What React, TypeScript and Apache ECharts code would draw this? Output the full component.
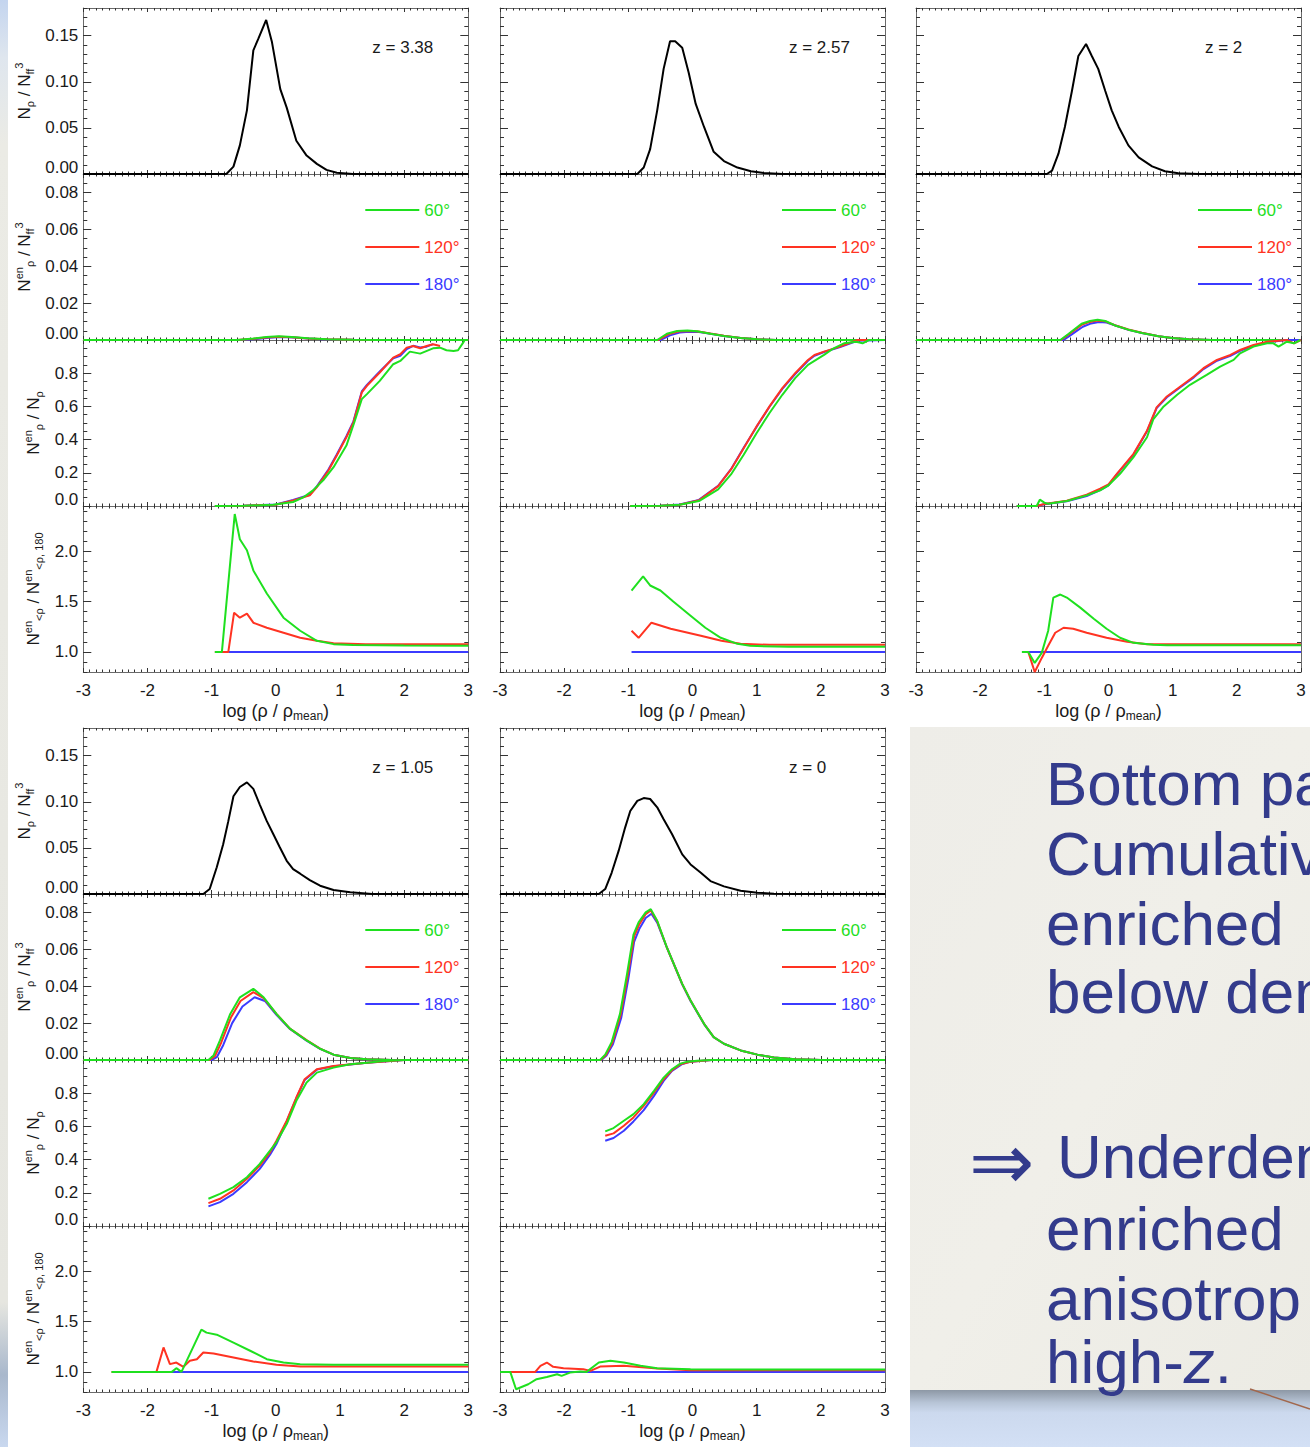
import React, { useEffect, useRef } from "react";
import * as echarts from "echarts";

const FONT = '"Liberation Sans", Arial, Helvetica, sans-serif';
const INK = "#1a1a1a";
const C60 = "#1fe01f";
const C120 = "#ff3322";
const C180 = "#3b3bff";
const NOTE_BLUE = "#333b8c";

// ---------- x ticks ----------
const X_MIN = -3;
const X_MAX = 3;

// ---------- y tick labels per row ----------
const Y_TICKS_TOTAL = [0, 0.05, 0.1, 0.15];
const Y_TICKS_EN = [0, 0.02, 0.04, 0.06, 0.08];
const Y_TICKS_FRAC = [0, 0.2, 0.4, 0.6, 0.8];
const Y_TICKS_RATIO = [1.0, 1.5, 2.0];

// ---------- z = 3.38 ----------
const z338Total = [[-3, 0], [-0.77, 0], [-0.66, 0.008], [-0.56, 0.031], [-0.45, 0.069], [-0.35, 0.134], [-0.27, 0.147], [-0.15, 0.167], [-0.06, 0.143], [0.07, 0.092], [0.17, 0.072], [0.32, 0.036], [0.48, 0.02], [0.64, 0.011], [0.79, 0.0045], [0.95, 0.0013], [1.2, 0], [3, 0]];
const z338En60 = [[-3, 0], [-0.6, 0], [-0.35, 0.0008], [-0.15, 0.0016], [0.05, 0.002], [0.25, 0.0016], [0.5, 0.0009], [0.8, 0.0004], [1.2, 0.0001], [1.6, 0], [3, 0]];
const z338En120 = [[-3, 0], [-0.6, 0], [-0.35, 0.0007], [-0.15, 0.0014], [0.05, 0.0018], [0.25, 0.0015], [0.5, 0.0008], [0.8, 0.0004], [1.2, 0.0001], [1.6, 0], [3, 0]];
const z338En180 = [[-3, 0], [-0.55, 0], [-0.3, 0.0006], [-0.1, 0.0012], [0.08, 0.0016], [0.28, 0.0013], [0.5, 0.0008], [0.8, 0.0003], [1.2, 0.0001], [1.6, 0], [3, 0]];
const z338Frac60 = [[-0.95, 0], [-0.5, 0.001], [-0.04, 0.008], [0.27, 0.024], [0.42, 0.05], [0.58, 0.094], [0.75, 0.16], [0.9, 0.234], [1.1, 0.364], [1.22, 0.5], [1.34, 0.644], [1.42, 0.674], [1.62, 0.754], [1.83, 0.854], [1.94, 0.874], [2.09, 0.93], [2.25, 0.918], [2.45, 0.95], [2.56, 0.954], [2.66, 0.938], [2.77, 0.934], [2.84, 0.938], [2.92, 0.984], [2.97, 1.02]];
const z338Frac120 = [[-0.95, 0], [-0.5, 0.002], [0, 0.008], [0.27, 0.034], [0.53, 0.064], [0.64, 0.114], [0.82, 0.214], [0.95, 0.304], [1.1, 0.414], [1.21, 0.504], [1.34, 0.684], [1.42, 0.724], [1.62, 0.804], [1.83, 0.894], [1.94, 0.914], [2.04, 0.954], [2.14, 0.964], [2.25, 0.95], [2.35, 0.964], [2.45, 0.974], [2.56, 0.964]];
const z338Frac180 = [[-0.95, 0], [-0.5, 0.002], [0, 0.009], [0.27, 0.036], [0.53, 0.068], [0.64, 0.118], [0.82, 0.22], [0.95, 0.31], [1.1, 0.42], [1.21, 0.51], [1.34, 0.69], [1.42, 0.73], [1.62, 0.81], [1.83, 0.89], [1.94, 0.905], [2.04, 0.945], [2.14, 0.965], [2.25, 0.955], [2.35, 0.96], [2.45, 0.975]];
const z338Ratio60 = [[-0.95, 1], [-0.84, 1], [-0.64, 2.37], [-0.56, 2.12], [-0.45, 2.01], [-0.35, 1.81], [-0.14, 1.58], [0.12, 1.34], [0.38, 1.21], [0.64, 1.11], [0.9, 1.077], [1.2, 1.068], [2, 1.063], [3, 1.062]];
const z338Ratio120 = [[-0.95, 1], [-0.74, 1], [-0.65, 1.39], [-0.56, 1.34], [-0.45, 1.38], [-0.35, 1.29], [-0.14, 1.24], [0.12, 1.19], [0.38, 1.14], [0.64, 1.11], [0.9, 1.087], [1.4, 1.077], [3, 1.077]];
const z338Ratio180 = [[-0.74, 1], [3, 1]];

// ---------- z = 2.57 ----------
const z257Total = [[-3, 0], [-0.86, 0], [-0.76, 0.007], [-0.66, 0.027], [-0.55, 0.069], [-0.45, 0.114], [-0.35, 0.144], [-0.27, 0.144], [-0.16, 0.137], [-0.06, 0.11], [0.05, 0.076], [0.18, 0.051], [0.33, 0.024], [0.49, 0.014], [0.7, 0.007], [0.91, 0.003], [1.11, 0.001], [1.4, 0], [3, 0]];
const z257En60 = [[-3, 0], [-0.55, 0], [-0.4, 0.0034], [-0.24, 0.0049], [-0.08, 0.0052], [0.07, 0.0047], [0.28, 0.0034], [0.49, 0.0022], [0.75, 0.0011], [1.01, 0.0004], [1.3, 0], [3, 0]];
const z257En120 = [[-3, 0], [-0.53, 0], [-0.38, 0.0031], [-0.22, 0.0046], [-0.06, 0.0049], [0.09, 0.0046], [0.28, 0.0035], [0.49, 0.0023], [0.75, 0.0011], [1.01, 0.0004], [1.3, 0], [3, 0]];
const z257En180 = [[-3, 0], [-0.5, 0], [-0.35, 0.0025], [-0.2, 0.004], [-0.05, 0.0045], [0.1, 0.0043], [0.28, 0.0034], [0.49, 0.0022], [0.75, 0.0011], [1.01, 0.0004], [1.3, 0], [3, 0]];
const z257Frac60 = [[-0.97, 0], [-0.5, 0.002], [-0.2, 0.007], [0.1, 0.03], [0.4, 0.1], [0.6, 0.19], [0.8, 0.31], [1.0, 0.44], [1.2, 0.56], [1.4, 0.67], [1.6, 0.77], [1.8, 0.85], [2.05, 0.91], [2.2, 0.95], [2.36, 0.98], [2.55, 0.99], [2.65, 0.98], [2.75, 1.0], [3, 1.0]];
const z257Frac120 = [[-0.97, 0], [-0.5, 0.002], [-0.2, 0.008], [0.1, 0.035], [0.4, 0.12], [0.6, 0.22], [0.8, 0.35], [1.0, 0.48], [1.2, 0.6], [1.4, 0.71], [1.6, 0.8], [1.8, 0.88], [1.9, 0.91], [2.05, 0.93], [2.3, 0.96], [2.57, 1.0], [3, 1.0]];
const z257Frac180 = [[-0.97, 0], [-0.5, 0.002], [-0.2, 0.009], [0.1, 0.037], [0.4, 0.122], [0.6, 0.222], [0.8, 0.352], [1.0, 0.478], [1.2, 0.598], [1.4, 0.705], [1.6, 0.795], [1.8, 0.875], [1.9, 0.905], [2.05, 0.928], [2.3, 0.958], [2.57, 0.995], [3, 1.0]];
const z257Ratio60 = [[-0.95, 1.61], [-0.77, 1.75], [-0.66, 1.66], [-0.5, 1.61], [-0.3, 1.5], [-0.03, 1.36], [0.2, 1.24], [0.44, 1.14], [0.7, 1.08], [0.9, 1.06], [1.5, 1.05], [3, 1.05]];
const z257Ratio120 = [[-0.95, 1.21], [-0.84, 1.14], [-0.64, 1.29], [-0.34, 1.23], [0.13, 1.16], [0.45, 1.11], [0.75, 1.08], [1.2, 1.07], [3, 1.07]];
const z257Ratio180 = [[-0.95, 1], [3, 1]];

// ---------- z = 2 ----------
const z2Total = [[-3, 0], [-0.96, 0], [-0.88, 0.0036], [-0.78, 0.022], [-0.68, 0.051], [-0.57, 0.09], [-0.47, 0.128], [-0.35, 0.141], [-0.26, 0.128], [-0.16, 0.114], [-0.05, 0.09], [0.05, 0.069], [0.16, 0.051], [0.31, 0.031], [0.47, 0.018], [0.68, 0.0083], [0.88, 0.003], [1.09, 0.0007], [1.4, 0], [3, 0]];
const z2En60 = [[-3, 0], [-0.75, 0], [-0.62, 0.0034], [-0.52, 0.0061], [-0.42, 0.0088], [-0.29, 0.0103], [-0.17, 0.011], [-0.05, 0.0103], [0.1, 0.0079], [0.31, 0.0056], [0.52, 0.0038], [0.78, 0.002], [0.99, 0.0011], [1.25, 0.0004], [1.6, 0], [3, 0]];
const z2En120 = [[-3, 0], [-0.74, 0], [-0.62, 0.003], [-0.52, 0.0056], [-0.42, 0.0082], [-0.29, 0.0098], [-0.17, 0.0105], [-0.05, 0.0101], [0.1, 0.008], [0.31, 0.0057], [0.52, 0.0039], [0.78, 0.002], [0.99, 0.0011], [1.25, 0.0004], [1.6, 0], [3, 0]];
const z2En180 = [[-3, 0], [-0.7, 0], [-0.6, 0.0024], [-0.5, 0.0048], [-0.4, 0.0072], [-0.27, 0.009], [-0.15, 0.0097], [-0.03, 0.0095], [0.12, 0.0077], [0.31, 0.0055], [0.52, 0.0038], [0.78, 0.002], [0.99, 0.0011], [1.25, 0.0004], [1.6, 0], [3, 0]];
const z2Frac60 = [[-1.43, 0], [-1.12, 0], [-1.07, 0.038], [-1.0, 0.02], [-0.94, 0.014], [-0.65, 0.03], [-0.34, 0.064], [-0.13, 0.094], [0, 0.124], [0.18, 0.194], [0.39, 0.294], [0.6, 0.414], [0.7, 0.524], [0.86, 0.6], [1.07, 0.67], [1.27, 0.73], [1.53, 0.79], [1.74, 0.84], [1.95, 0.88], [2.05, 0.92], [2.26, 0.96], [2.47, 0.98], [2.57, 0.98], [2.65, 0.96], [2.78, 0.99], [2.89, 0.98], [2.99, 1.0]];
const z2Frac120 = [[-1.43, 0], [-1.12, 0], [-1.0, 0.012], [-0.65, 0.032], [-0.34, 0.068], [-0.13, 0.104], [0, 0.13], [0.13, 0.194], [0.39, 0.314], [0.6, 0.454], [0.75, 0.594], [0.91, 0.66], [1.12, 0.72], [1.33, 0.78], [1.48, 0.83], [1.69, 0.88], [1.9, 0.91], [2.05, 0.94], [2.26, 0.97], [2.47, 0.99], [2.78, 1.0], [2.89, 0.98], [3, 1.0]];
const z2Frac180 = [[-1.43, 0], [-1.12, 0], [-1.0, 0.01], [-0.65, 0.028], [-0.34, 0.06], [-0.13, 0.096], [0, 0.124], [0.13, 0.19], [0.39, 0.31], [0.6, 0.45], [0.75, 0.59], [0.91, 0.655], [1.12, 0.715], [1.33, 0.775], [1.48, 0.825], [1.69, 0.875], [1.9, 0.905], [2.05, 0.935], [2.26, 0.965], [2.47, 0.985], [2.78, 1.0], [3, 1.0]];
const z2Ratio60 = [[-1.35, 1], [-1.25, 1], [-1.15, 0.89], [-1.04, 0.99], [-0.94, 1.21], [-0.86, 1.54], [-0.75, 1.57], [-0.65, 1.54], [-0.44, 1.44], [-0.23, 1.33], [-0.03, 1.23], [0.18, 1.14], [0.39, 1.09], [0.7, 1.07], [0.91, 1.066], [3, 1.066]];
const z2Ratio120 = [[-1.25, 1], [-1.15, 0.8], [-1.04, 0.94], [-0.94, 1.06], [-0.83, 1.19], [-0.7, 1.24], [-0.55, 1.23], [-0.34, 1.19], [-0.03, 1.14], [0.29, 1.1], [0.6, 1.077], [3, 1.077]];
const z2Ratio180 = [[-1.25, 1], [3, 1]];

// ---------- z = 1.05 ----------
const z105Total = [[-3, 0], [-1.13, 0], [-1.03, 0.0054], [-0.92, 0.029], [-0.82, 0.054], [-0.74, 0.079], [-0.66, 0.106], [-0.56, 0.116], [-0.45, 0.121], [-0.35, 0.114], [-0.25, 0.097], [-0.14, 0.079], [-0.04, 0.065], [0.06, 0.051], [0.17, 0.036], [0.27, 0.027], [0.38, 0.022], [0.53, 0.015], [0.69, 0.009], [0.9, 0.0043], [1.16, 0.0018], [1.5, 0], [3, 0]];
const z105En60 = [[-3, 0], [-1.05, 0], [-0.97, 0.0025], [-0.87, 0.0106], [-0.71, 0.025], [-0.56, 0.034], [-0.35, 0.0386], [-0.19, 0.034], [0.01, 0.025], [0.22, 0.017], [0.48, 0.0106], [0.69, 0.0061], [0.9, 0.0029], [1.16, 0.0011], [1.42, 0.0004], [1.8, 0], [3, 0]];
const z105En120 = [[-3, 0], [-1.03, 0], [-0.95, 0.002], [-0.85, 0.0095], [-0.7, 0.023], [-0.55, 0.032], [-0.35, 0.0368], [-0.19, 0.0335], [0.01, 0.025], [0.22, 0.017], [0.48, 0.0108], [0.69, 0.0062], [0.9, 0.0029], [1.16, 0.0011], [1.42, 0.0004], [1.8, 0], [3, 0]];
const z105En180 = [[-3, 0], [-1.0, 0], [-0.92, 0.0015], [-0.82, 0.008], [-0.68, 0.02], [-0.52, 0.029], [-0.33, 0.034], [-0.17, 0.032], [0.01, 0.0245], [0.22, 0.0168], [0.48, 0.0105], [0.69, 0.006], [0.9, 0.0029], [1.16, 0.0011], [1.42, 0.0004], [1.8, 0], [3, 0]];
const z105Frac60 = [[-1.05, 0.164], [-0.87, 0.194], [-0.66, 0.234], [-0.45, 0.294], [-0.25, 0.374], [-0.09, 0.454], [0.01, 0.504], [0.17, 0.614], [0.32, 0.754], [0.48, 0.864], [0.64, 0.924], [0.9, 0.954], [1.16, 0.974], [1.42, 0.984], [1.68, 0.994], [2.0, 1.0], [3, 1.0]];
const z105Frac120 = [[-1.05, 0.138], [-0.87, 0.164], [-0.66, 0.214], [-0.45, 0.284], [-0.25, 0.364], [-0.09, 0.444], [0.01, 0.514], [0.17, 0.634], [0.32, 0.774], [0.45, 0.884], [0.64, 0.944], [0.9, 0.964], [1.42, 0.984], [2.0, 1.0], [3, 1.0]];
const z105Frac180 = [[-1.05, 0.118], [-0.87, 0.144], [-0.66, 0.194], [-0.45, 0.264], [-0.25, 0.344], [-0.09, 0.43], [0.01, 0.494], [0.17, 0.63], [0.32, 0.77], [0.45, 0.88], [0.64, 0.942], [0.9, 0.962], [1.42, 0.984], [2.0, 1.0], [3, 1.0]];
const z105Ratio60 = [[-2.56, 1], [-1.62, 1], [-1.55, 1.037], [-1.47, 1.0], [-1.16, 1.42], [-1.08, 1.39], [-0.92, 1.37], [-0.66, 1.29], [-0.4, 1.21], [-0.14, 1.126], [0.12, 1.093], [0.38, 1.077], [0.9, 1.07], [3, 1.07]];
const z105Ratio120 = [[-2.56, 1], [-1.86, 1], [-1.75, 1.243], [-1.65, 1.077], [-1.55, 1.093], [-1.44, 1.05], [-1.34, 1.11], [-1.23, 1.126], [-1.13, 1.193], [-0.97, 1.183], [-0.66, 1.143], [-0.35, 1.103], [0.01, 1.07], [0.38, 1.053], [3, 1.053]];
const z105Ratio180 = [[-1.62, 1], [3, 1]];

// ---------- z = 0 ----------
const z0Total = [[-3, 0], [-1.46, 0], [-1.36, 0.0054], [-1.26, 0.023], [-1.15, 0.047], [-1.05, 0.072], [-0.97, 0.09], [-0.86, 0.101], [-0.76, 0.104], [-0.66, 0.103], [-0.55, 0.094], [-0.45, 0.081], [-0.32, 0.065], [-0.16, 0.043], [-0.03, 0.032], [0.13, 0.023], [0.28, 0.014], [0.49, 0.0083], [0.75, 0.0036], [1.01, 0.0014], [1.27, 0.0004], [1.6, 0], [3, 0]];
const z0En60 = [[-3, 0], [-1.44, 0], [-1.36, 0.0029], [-1.26, 0.0097], [-1.13, 0.025], [-1.02, 0.0467], [-0.92, 0.068], [-0.84, 0.0746], [-0.73, 0.08], [-0.65, 0.0818], [-0.55, 0.0755], [-0.4, 0.0611], [-0.16, 0.0413], [-0.03, 0.0323], [0.18, 0.0196], [0.33, 0.0124], [0.49, 0.0088], [0.75, 0.0052], [1.01, 0.0029], [1.27, 0.0013], [1.6, 0.0004], [2, 0], [3, 0]];
const z0En120 = [[-3, 0], [-1.43, 0], [-1.35, 0.0027], [-1.25, 0.0093], [-1.12, 0.0245], [-1.01, 0.046], [-0.91, 0.067], [-0.83, 0.0735], [-0.73, 0.079], [-0.65, 0.0811], [-0.55, 0.0752], [-0.4, 0.061], [-0.16, 0.0412], [-0.03, 0.0322], [0.18, 0.0196], [0.33, 0.0124], [0.49, 0.0088], [0.75, 0.0052], [1.01, 0.0029], [1.27, 0.0013], [1.6, 0.0004], [2, 0], [3, 0]];
const z0En180 = [[-3, 0], [-1.42, 0], [-1.34, 0.0024], [-1.24, 0.0086], [-1.11, 0.023], [-1.0, 0.044], [-0.91, 0.064], [-0.83, 0.071], [-0.73, 0.077], [-0.64, 0.0793], [-0.55, 0.0745], [-0.4, 0.061], [-0.16, 0.041], [-0.03, 0.032], [0.18, 0.0195], [0.33, 0.0124], [0.49, 0.0088], [0.75, 0.0052], [1.01, 0.0029], [1.27, 0.0013], [1.6, 0.0004], [2, 0], [3, 0]];
const z0Frac60 = [[-1.36, 0.57], [-1.23, 0.59], [-1.07, 0.634], [-0.92, 0.674], [-0.76, 0.734], [-0.6, 0.814], [-0.45, 0.894], [-0.32, 0.944], [-0.19, 0.978], [-0.08, 0.99], [0.07, 0.996], [0.3, 1.0], [3, 1.0]];
const z0Frac120 = [[-1.36, 0.544], [-1.23, 0.558], [-1.07, 0.604], [-0.92, 0.654], [-0.76, 0.724], [-0.6, 0.804], [-0.45, 0.884], [-0.32, 0.938], [-0.19, 0.974], [-0.03, 0.99], [0.3, 1.0], [3, 1.0]];
const z0Frac180 = [[-1.36, 0.514], [-1.23, 0.53], [-1.07, 0.574], [-0.92, 0.63], [-0.76, 0.698], [-0.6, 0.784], [-0.45, 0.874], [-0.32, 0.934], [-0.17, 0.974], [-0.03, 0.99], [0.3, 1.0], [3, 1.0]];
const z0Ratio60 = [[-3, 1], [-2.84, 1], [-2.75, 0.827], [-2.56, 0.877], [-2.43, 0.927], [-2.27, 0.95], [-2.11, 0.977], [-2.04, 0.96], [-1.91, 0.993], [-1.75, 1.003], [-1.65, 1.0], [-1.46, 1.093], [-1.28, 1.11], [-1.07, 1.093], [-0.81, 1.06], [-0.55, 1.037], [-0.03, 1.027], [1.01, 1.023], [3, 1.023]];
const z0Ratio120 = [[-3, 1], [-2.45, 1], [-2.37, 1.06], [-2.27, 1.093], [-2.17, 1.05], [-2.01, 1.037], [-1.7, 1.027], [-1.59, 1.01], [-1.44, 1.053], [-1.07, 1.06], [-0.55, 1.033], [-0.03, 1.017], [3, 1.017]];
const z0Ratio180 = [[-3, 1], [3, 1]];

const REDSHIFTS = ["3.38", "2.57", "2", "1.05", "0"];
const ANGLES = ["180°", "120°", "60°"];
const ANGLE_COLORS = [C180, C120, C60];

const PANELS = [
  { total: z338Total, en: [z338En180, z338En120, z338En60], frac: [z338Frac180, z338Frac120, z338Frac60], ratio: [z338Ratio180, z338Ratio120, z338Ratio60] },
  { total: z257Total, en: [z257En180, z257En120, z257En60], frac: [z257Frac180, z257Frac120, z257Frac60], ratio: [z257Ratio180, z257Ratio120, z257Ratio60] },
  { total: z2Total, en: [z2En180, z2En120, z2En60], frac: [z2Frac180, z2Frac120, z2Frac60], ratio: [z2Ratio180, z2Ratio120, z2Ratio60] },
  { total: z105Total, en: [z105En180, z105En120, z105En60], frac: [z105Frac180, z105Frac120, z105Frac60], ratio: [z105Ratio180, z105Ratio120, z105Ratio60] },
  { total: z0Total, en: [z0En180, z0En120, z0En60], frac: [z0Frac180, z0Frac120, z0Frac60], ratio: [z0Ratio180, z0Ratio120, z0Ratio60] },
];

// ---------- layout ----------
const PANEL_ORIGINS = [[83.3, 8], [500, 8], [916, 8], [83.3, 728], [500, 728]];
const PANEL_W = 385;
const ROW_H = 166;

const ROW_SPECS = [
  { min: 0, max: 0.18, majors: Y_TICKS_TOTAL, step: 0.01, digits: 2 },
  { min: 0, max: 0.09, majors: Y_TICKS_EN, step: 0.005, digits: 2 },
  { min: 0, max: 1.0, majors: Y_TICKS_FRAC, step: 0.05, digits: 1 },
  { min: 0.8, max: 2.45, majors: Y_TICKS_RATIO, step: 0.1, digits: 1 },
];

const Y_TITLES = [
  "{m|N}{sb|ρ}{m| / N}{sb|ff}{sp|3}",
  "{m|N}{sp|en}{sb|ρ}{m| / N}{sb|ff}{sp|3}",
  "{m|N}{sp|en}{sb|ρ}{m| / N}{sb|ρ}",
  "{m|N}{sp|en}{sb|<ρ}{m| / N}{sp|en}{sb|<ρ, 180}",
];
const Y_TITLE_X = [24, 24, 33, 33];

const NOTE_LINES = [
  { text: "Bottom pa", y: 783 },
  { text: "Cumulativ", y: 853 },
  { text: "enriched", y: 923 },
  { text: "below den", y: 991 },
  { text: "Underden", y: 1156, x: 1057 },
  { text: "enriched", y: 1228 },
  { text: "anisotrop", y: 1298 },
];

const TICK_COLOR = "#333";
const FRAME_COLOR = "#6a6a6a";

function minorValues(min: number, max: number, step: number) {
  const out: number[] = [];
  const n = Math.round((max - min) / step);
  for (let i = 0; i <= n; i++) out.push(+(min + i * step).toFixed(4));
  return out;
}

function buildOption() {
  const grid: any[] = [];
  const xAxis: any[] = [];
  const yAxis: any[] = [];
  const series: any[] = [];
  const graphic: any[] = [];

  const axisLine = { show: true, onZero: false, lineStyle: { color: FRAME_COLOR, width: 1 } };
  const noLine = { show: false, onZero: false };

  PANELS.forEach((panel, p) => {
    const [px, py] = PANEL_ORIGINS[p];
    const firstCol = p === 0 || p === 3;
    const rows = [[panel.total], panel.en, panel.frac, panel.ratio];

    for (let k = 0; k < 4; k++) {
      const g = p * 4 + k;
      const isBottom = k === 3;
      grid.push({ left: px, top: py + k * ROW_H, width: PANEL_W, height: ROW_H, show: false });

      const xCommon = {
        type: "value",
        gridIndex: g,
        min: X_MIN,
        max: X_MAX,
        interval: 1,
        axisLine,
        axisTick: { show: true, inside: true, length: 4, lineStyle: { color: TICK_COLOR } },
        minorTick: { show: true, splitNumber: 10, length: 2.5, lineStyle: { color: TICK_COLOR } },
        splitLine: { show: false },
        minorSplitLine: { show: false },
      };
      xAxis.push({
        ...xCommon,
        position: "bottom",
        axisLabel: { show: isBottom, margin: 10, fontSize: 17, fontFamily: FONT, color: INK },
        name: isBottom ? "{a|log (ρ / ρ}{s|mean}{a|)}" : "",
        nameLocation: "middle",
        nameGap: 28,
        nameTextStyle: {
          rich: {
            a: { fontSize: 18, fontFamily: FONT, color: INK, lineHeight: 22 },
            s: { fontSize: 12, fontFamily: FONT, color: INK, lineHeight: 12, verticalAlign: "bottom" },
          },
        },
      });
      xAxis.push({ ...xCommon, position: "top", axisLabel: { show: false } });

      const spec = ROW_SPECS[k];
      const minors = minorValues(spec.min, spec.max, spec.step);
      const yCommon = { type: "value", gridIndex: g, min: spec.min, max: spec.max, splitLine: { show: false } };
      const labelRich = { lo: { padding: [0, 0, 14, 0], fontSize: 17, fontFamily: FONT, color: INK } };
      // left side: frame + major ticks (with labels in the first column), then minor ticks
      yAxis.push({
        ...yCommon,
        position: "left",
        axisLine,
        axisTick: { show: true, inside: true, length: 8, customValues: spec.majors, lineStyle: { color: TICK_COLOR } },
        axisLabel: {
          show: firstCol,
          customValues: spec.majors,
          margin: 5,
          fontSize: 17,
          fontFamily: FONT,
          color: INK,
          rich: labelRich,
          formatter: (v: number) => {
            const s = v.toFixed(spec.digits);
            return v === 0 ? `{lo|${s}}` : s;
          },
        },
      });
      yAxis.push({
        ...yCommon,
        position: "left",
        axisLine: noLine,
        axisTick: { show: true, inside: true, length: 4, customValues: minors, lineStyle: { color: TICK_COLOR } },
        axisLabel: { show: false },
      });
      // right side mirror
      yAxis.push({
        ...yCommon,
        position: "right",
        axisLine,
        axisTick: { show: true, inside: true, length: 8, customValues: spec.majors, lineStyle: { color: TICK_COLOR } },
        axisLabel: { show: false },
      });
      yAxis.push({
        ...yCommon,
        position: "right",
        axisLine: noLine,
        axisTick: { show: true, inside: true, length: 4, customValues: minors, lineStyle: { color: TICK_COLOR } },
        axisLabel: { show: false },
      });

      const curves = rows[k];
      curves.forEach((data: number[][], i: number) => {
        const isTotal = k === 0;
        const color = isTotal ? "#000" : ANGLE_COLORS[i];
        series.push({
          type: "line",
          name: isTotal ? "N" : ANGLES[i],
          data,
          xAxisIndex: 2 * g,
          yAxisIndex: 4 * g,
          symbol: "none",
          showSymbol: false,
          color,
          lineStyle: { color, width: 2 },
          clip: true,
          silent: true,
          z: 3,
        });
      });

      if (firstCol) {
        graphic.push({
          type: "text",
          x: Y_TITLE_X[k],
          y: py + k * ROW_H + ROW_H / 2,
          rotation: Math.PI / 2,
          silent: true,
          style: {
            text: Y_TITLES[k],
            align: "center",
            verticalAlign: "middle",
            fill: INK,
            rich: {
              m: { fontSize: 17, fontFamily: FONT, fill: INK, lineHeight: 22 },
              sp: { fontSize: 11, fontFamily: FONT, fill: INK, lineHeight: 11, verticalAlign: "top" },
              sb: { fontSize: 11, fontFamily: FONT, fill: INK, lineHeight: 11, verticalAlign: "bottom" },
            },
          },
        });
      }
    }

    graphic.push({
      type: "text",
      x: px + 289,
      y: py + 39,
      silent: true,
      style: { text: `z = ${REDSHIFTS[p]}`, fontSize: 17, fontFamily: FONT, fill: INK, verticalAlign: "middle" },
    });
  });

  const legend = PANEL_ORIGINS.map(([px, py]) => ({
    left: px + 282,
    top: py + 193,
    orient: "vertical",
    icon: "rect",
    itemWidth: 54,
    itemHeight: 2,
    itemGap: 19,
    padding: 0,
    selectedMode: false,
    textStyle: { fontSize: 17, fontFamily: FONT, lineHeight: 18 },
    data: [
      { name: "60°", textStyle: { color: C60 } },
      { name: "120°", textStyle: { color: C120 } },
      { name: "180°", textStyle: { color: C180 } },
    ],
  }));

  // slide backdrop: strip on the left, paper card with notes bottom-right
  const backdrop: any[] = [
    {
      type: "rect",
      z: -10,
      shape: { x: 0, y: 0, width: 8, height: 1447 },
      style: {
        fill: new echarts.graphic.LinearGradient(0, 0, 0, 1, [
          { offset: 0, color: "#c4d5ef" },
          { offset: 0.04, color: "#dfe6ee" },
          { offset: 0.1, color: "#ebebe5" },
          { offset: 0.9, color: "#e6e6e0" },
          { offset: 0.95, color: "#a9b8cc" },
          { offset: 1, color: "#c9d8ef" },
        ]),
      },
      silent: true,
    },
    {
      type: "rect",
      z: -10,
      shape: { x: 910, y: 727, width: 400, height: 665 },
      style: {
        fill: new echarts.graphic.LinearGradient(0, 0, 1, 1, [
          { offset: 0, color: "#eeede8" },
          { offset: 0.5, color: "#f0efe9" },
          { offset: 1, color: "#ecebe4" },
        ]),
      },
      silent: true,
    },
    {
      type: "rect",
      z: -10,
      shape: { x: 910, y: 1390, width: 400, height: 57 },
      style: {
        fill: new echarts.graphic.LinearGradient(0, 0, 0, 1, [
          { offset: 0, color: "#8d98a5" },
          { offset: 0.22, color: "#b7c4d6" },
          { offset: 0.4, color: "#ccd9ee" },
          { offset: 1, color: "#d3e0f5" },
        ]),
      },
      silent: true,
    },
    {
      type: "line",
      z: -9,
      shape: { x1: 1250, y1: 1389, x2: 1310, y2: 1409 },
      style: { stroke: "#a2674c", lineWidth: 1.5 },
      silent: true,
    },
  ];

  const notes: any[] = NOTE_LINES.map((ln) => ({
    type: "text",
    x: ln.x ?? 1046,
    y: ln.y,
    silent: true,
    style: { text: ln.text, fontSize: 62, fontFamily: FONT, fill: NOTE_BLUE, verticalAlign: "middle" },
  }));
  notes.push({
    type: "text",
    x: 969,
    y: 1162,
    silent: true,
    style: { text: "⇒", fontSize: 78, fontFamily: '"DejaVu Sans", sans-serif', fill: NOTE_BLUE, verticalAlign: "middle" },
  });
  notes.push({
    type: "text",
    x: 1046,
    y: 1361,
    silent: true,
    style: {
      text: "{n|high-}{i|z}{n|.}",
      verticalAlign: "middle",
      fill: NOTE_BLUE,
      rich: {
        n: { fontSize: 62, fontFamily: FONT, fill: NOTE_BLUE },
        i: { fontSize: 62, fontFamily: FONT, fontStyle: "italic", fill: NOTE_BLUE },
      },
    },
  });

  return {
    animation: false,
    backgroundColor: "#ffffff",
    grid,
    xAxis,
    yAxis,
    series,
    legend,
    graphic: { elements: [...backdrop, ...graphic, ...notes] },
  };
}

export default function App() {
  const ref = useRef<HTMLDivElement>(null);
  useEffect(() => {
    if (!ref.current) return;
    const chart = echarts.init(ref.current, null, { renderer: "svg" });
    chart.setOption(buildOption() as any);
    return () => chart.dispose();
  }, []);
  return <div ref={ref} style={{ position: "absolute", left: 0, top: 0, width: 1310, height: 1453 }} />;
}
